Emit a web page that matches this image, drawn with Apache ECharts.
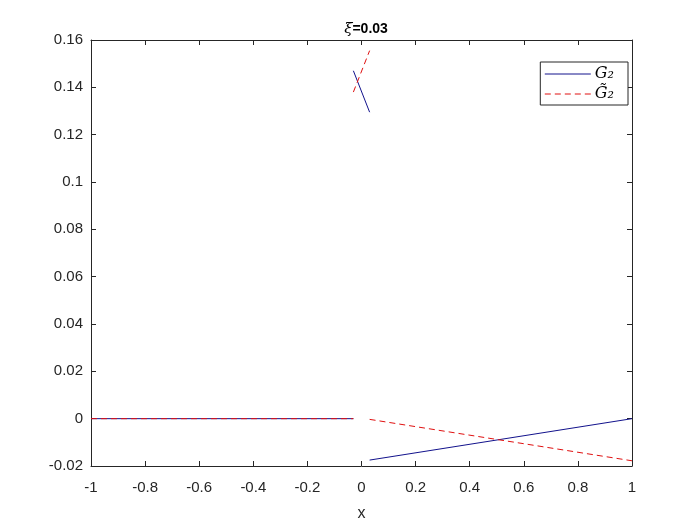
<!DOCTYPE html>
<html>
<head>
<meta charset="utf-8">
<script src="https://cdn.jsdelivr.net/npm/echarts@6/dist/echarts.min.js"></script>
<style>
  html, body { margin: 0; padding: 0; background: #fff; }
  #chart { width: 700px; height: 525px; }
</style>
</head>
<body>
<div id="chart"></div>
<script>
// ticks
const xTicks = [-1, -0.8, -0.6, -0.4, -0.2, 0, 0.2, 0.4, 0.6, 0.8, 1];
const yTicks = [-0.02, 0, 0.02, 0.04, 0.06, 0.08, 0.1, 0.12, 0.14, 0.16];

// G2 pieces (solid blue)
const g2Left = [[-1, 0], [-0.03, 0]];
const g2Mid = [[-0.03, 0.147], [0.03, 0.1295]];
const g2Right = [[0.03, -0.0175], [1, 0]];

// G2 tilde pieces (dashed red)
const gtLeft = [[-1, 0], [-0.03, 0]];
const gtMid = [[-0.03, 0.138], [0.03, 0.1555]];
const gtRight = [[0.03, -0.0003], [1, -0.0178]];

const blue = '#12128c';
const red = '#e01010';
const font = 'Liberation Sans, Arial, sans-serif';

const chart = echarts.init(document.getElementById('chart'));

function seg(name, data, color, type) {
  return {
    name: name,
    type: 'line',
    data: data,
    symbol: 'none',
    animation: false,
    lineStyle: { color: color, width: 1, type: type },
    itemStyle: { color: color },
    xAxisIndex: 0,
    yAxisIndex: 0
  };
}

const axisLine = { show: true, onZero: false, lineStyle: { color: '#262626', width: 1 } };
const tick = { show: true, inside: true, length: 5, lineStyle: { color: '#262626' } };

const option = {
  backgroundColor: '#fff',
  animation: false,
  title: {
    text: '{xi|ξ}{b|=0.03}',
    left: 361,
    top: 17,
    textAlign: 'center',
    textStyle: {
      rich: {
        xi: { fontFamily: 'DejaVu Serif, serif', fontStyle: 'italic', fontWeight: 'normal', fontSize: 15, color: '#000' },
        b: { fontFamily: font, fontWeight: 'bold', fontSize: 14, color: '#000' }
      }
    }
  },
  legend: {
    orient: 'vertical',
    right: 72,
    top: 62,
    backgroundColor: '#fff',
    borderColor: '#262626',
    borderWidth: 1,
    borderRadius: 0,
    padding: [3, 14, 2, 4],
    itemGap: 2,
    itemWidth: 46,
    itemHeight: 18,
    itemStyle: { opacity: 0 },
    data: [
      { name: 'G₂', lineStyle: { color: blue, width: 1, type: 'solid' } },
      { name: 'G̃₂', lineStyle: { color: red, width: 1, type: [6, 4] } }
    ],
    textStyle: { fontFamily: 'DejaVu Serif, serif', fontStyle: 'italic', fontSize: 16, lineHeight: 18, color: '#000', padding: [0, 0, 0, -1] }
  },
  grid: { left: 91, right: 68, top: 40, bottom: 59, show: false, outerBoundsMode: 'none' },
  xAxis: [
    {
      type: 'value', min: -1, max: 1, interval: 0.2,
      position: 'bottom',
      name: 'x', nameLocation: 'middle', nameGap: 40,
      nameTextStyle: { fontFamily: font, fontSize: 16, color: '#262626' },
      axisLine: axisLine, axisTick: tick, splitLine: { show: false },
      axisLabel: {
        fontFamily: font, fontSize: 15, color: '#262626', margin: 14,
        formatter: v => xTicks.find(t => Math.abs(t - v) < 1e-9) !== undefined ? String(Math.round(v * 10) / 10) : ''
      }
    },
    {
      type: 'value', min: -1, max: 1, interval: 0.2, position: 'top',
      axisLine: axisLine, axisTick: tick, axisLabel: { show: false }, splitLine: { show: false }
    }
  ],
  yAxis: [
    {
      type: 'value', min: -0.02, max: 0.16, interval: 0.02,
      position: 'left',
      axisLine: axisLine, axisTick: tick, splitLine: { show: false },
      axisLabel: {
        fontFamily: font, fontSize: 15, color: '#262626', margin: 8,
        formatter: v => {
          const t = yTicks.find(t => Math.abs(t - v) < 1e-9);
          return t === undefined ? '' : String(Math.round(t * 100) / 100);
        }
      }
    },
    {
      type: 'value', min: -0.02, max: 0.16, interval: 0.02, position: 'right',
      axisLine: axisLine, axisTick: tick, axisLabel: { show: false }, splitLine: { show: false }
    }
  ],
  series: [
    seg('G₂', g2Left, blue, 'solid'),
    seg('G₂', g2Mid, blue, 'solid'),
    seg('G₂', g2Right, blue, 'solid'),
    seg('G̃₂', gtLeft, red, [6, 4]),
    seg('G̃₂', gtMid, red, [6, 4]),
    seg('G̃₂', gtRight, red, [6, 4])
  ]
};

chart.setOption(option);
</script>
</body>
</html>
